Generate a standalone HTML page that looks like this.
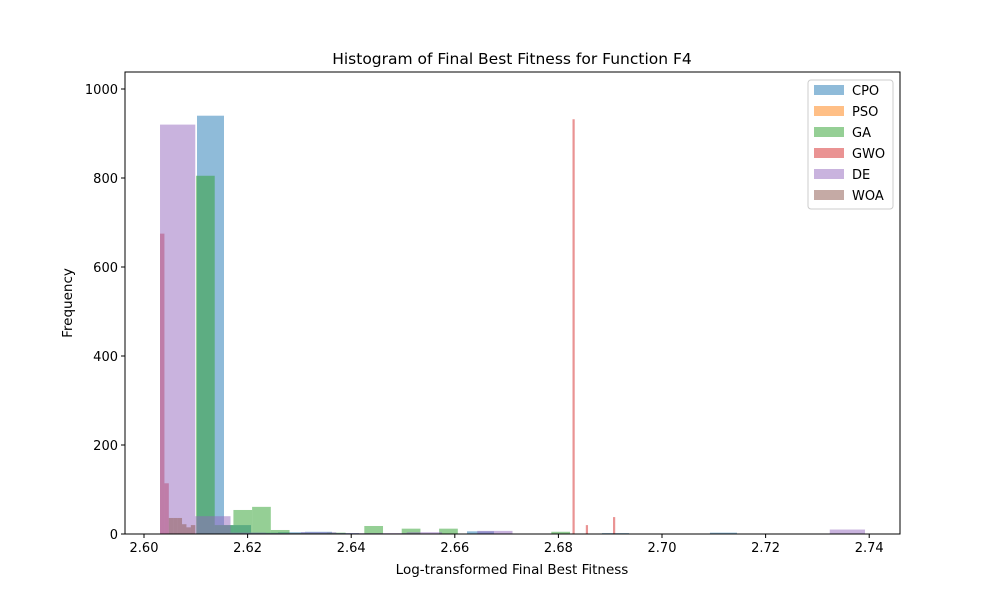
<!DOCTYPE html>
<html><head><meta charset="utf-8"><style>
body{margin:0;background:#fff;}
svg text{font-family:"DejaVu Sans","Liberation Sans",sans-serif;}
</style></head><body>
<svg id="chart" width="1000" height="600" xmlns="http://www.w3.org/2000/svg">
<rect width="1000" height="600" fill="#fff"/>
<text x="512" y="64" text-anchor="middle" font-size="15.5">Histogram of Final Best Fitness for Function F4</text>
<g id="bars"></g>
<g id="axes"></g>
<text x="512" y="574" text-anchor="middle" font-size="13.5">Log-transformed Final Best Fitness</text>
<text transform="translate(72,303) rotate(-90)" text-anchor="middle" font-size="13.5">Frequency</text>
<g id="legend"></g>
</svg>
<script>
const seriesNames = ["CPO","PSO","GA","GWO","DE","WOA"];
const seriesColors = ["#1f77b4","#ff7f0e","#2ca02c","#d62728","#9467bd","#8c564b"];
const cpoStart = 2.61023, cpoWidth = 0.005212;
const cpoCounts = [940,20,3,4,5,2,1,1,1,1,6,1,0,0,1,2,1,0,0,3];
const gaStart = 2.61004, gaWidth = 0.00361;
const gaCounts = [805,20,54,61,9,2,2,3,1,18,1,12,0,12,0,0,0,0,0,5];
const gwoLefts = [2.60309,2.60394,2.68272,2.68529,2.69054];
const gwoWidths = [0.00085,0.00085,0.000425,0.000425,0.000425];
const gwoCounts = [675,114,932,20,38];
const deStart = 2.60309, deWidth = 0.006805;
const deCounts = [920,40,3,2,4,2,2,4,1,7,0,0,0,0,0,0,0,0,0,10];
const woaStart = 2.60479, woaWidth = 0.00085;
const woaCounts = [36,36,36,22,15,20];
const xTicks = [2.60,2.62,2.64,2.66,2.68,2.70,2.72,2.74];
const xTickLabels = ["2.60","2.62","2.64","2.66","2.68","2.70","2.72","2.74"];
const yTicks = [0,200,400,600,800,1000];

const L=125,R=900,T=72,B=534;
const xMin=2.59633, xPerUnit=5180;
function xs(v){return L+(v-xMin)*xPerUnit;}
function ys(v){return B-v*0.445;}
const NS="http://www.w3.org/2000/svg";
function mk(tag,attrs,parent){const e=document.createElementNS(NS,tag);for(const k in attrs)e.setAttribute(k,attrs[k]);parent.appendChild(e);return e;}
const bars=document.getElementById('bars');
function drawBar(x0,w,c,color,name){
  if(c<=0)return;
  const r=mk('rect',{x:xs(x0),y:ys(c),width:xs(x0+w)-xs(x0),height:B-ys(c),fill:color,'fill-opacity':0.5},bars);
  
  
}
cpoCounts.forEach((c,i)=>drawBar(cpoStart+i*cpoWidth,cpoWidth,c,seriesColors[0],'bar-cpo'));
gaCounts.forEach((c,i)=>drawBar(gaStart+i*gaWidth,gaWidth,c,seriesColors[2],'bar-ga'));
gwoCounts.forEach((c,i)=>drawBar(gwoLefts[i],gwoWidths[i],c,seriesColors[3],'bar-gwo'));
deCounts.forEach((c,i)=>drawBar(deStart+i*deWidth,deWidth,c,seriesColors[4],'bar-de'));
woaCounts.forEach((c,i)=>drawBar(woaStart+i*woaWidth,woaWidth,c,seriesColors[5],'bar-woa'));

const ax=document.getElementById('axes');
const frame=mk('rect',{x:L,y:T,width:R-L,height:B-T,fill:'none',stroke:'#000','stroke-width':1},ax);


xTicks.forEach((v,i)=>{
  const x=xs(v);
  const t=mk('line',{x1:x,x2:x,y1:B,y2:B+4,stroke:'#000'},ax);
  
  
  const l=mk('text',{x:x,y:B+18,'text-anchor':'middle','font-size':13},ax);
  l.textContent=xTickLabels[i];
  
  
});
yTicks.forEach(v=>{
  const y=ys(v);
  const t=mk('line',{x1:L-4,x2:L,y1:y,y2:y,stroke:'#000'},ax);
  
  
  const l=mk('text',{x:L-7,y:y+5,'text-anchor':'end','font-size':13},ax);
  l.textContent=String(v);
  
  
});
const lg=document.getElementById('legend');
const box=mk('rect',{x:808,y:80,width:85,height:129,rx:3,fill:'#fff','fill-opacity':0.8,stroke:'#ccc'},lg);


seriesNames.forEach((n,i)=>{
  const y=90+i*21;
  const p=mk('rect',{x:814,y:y-5,width:30,height:10,fill:seriesColors[i],'fill-opacity':0.5},lg);
  
  
  const t=mk('text',{x:852,y:y+5,'font-size':13},lg);
  t.textContent=n;
  
  
});
</script>
</body></html>
